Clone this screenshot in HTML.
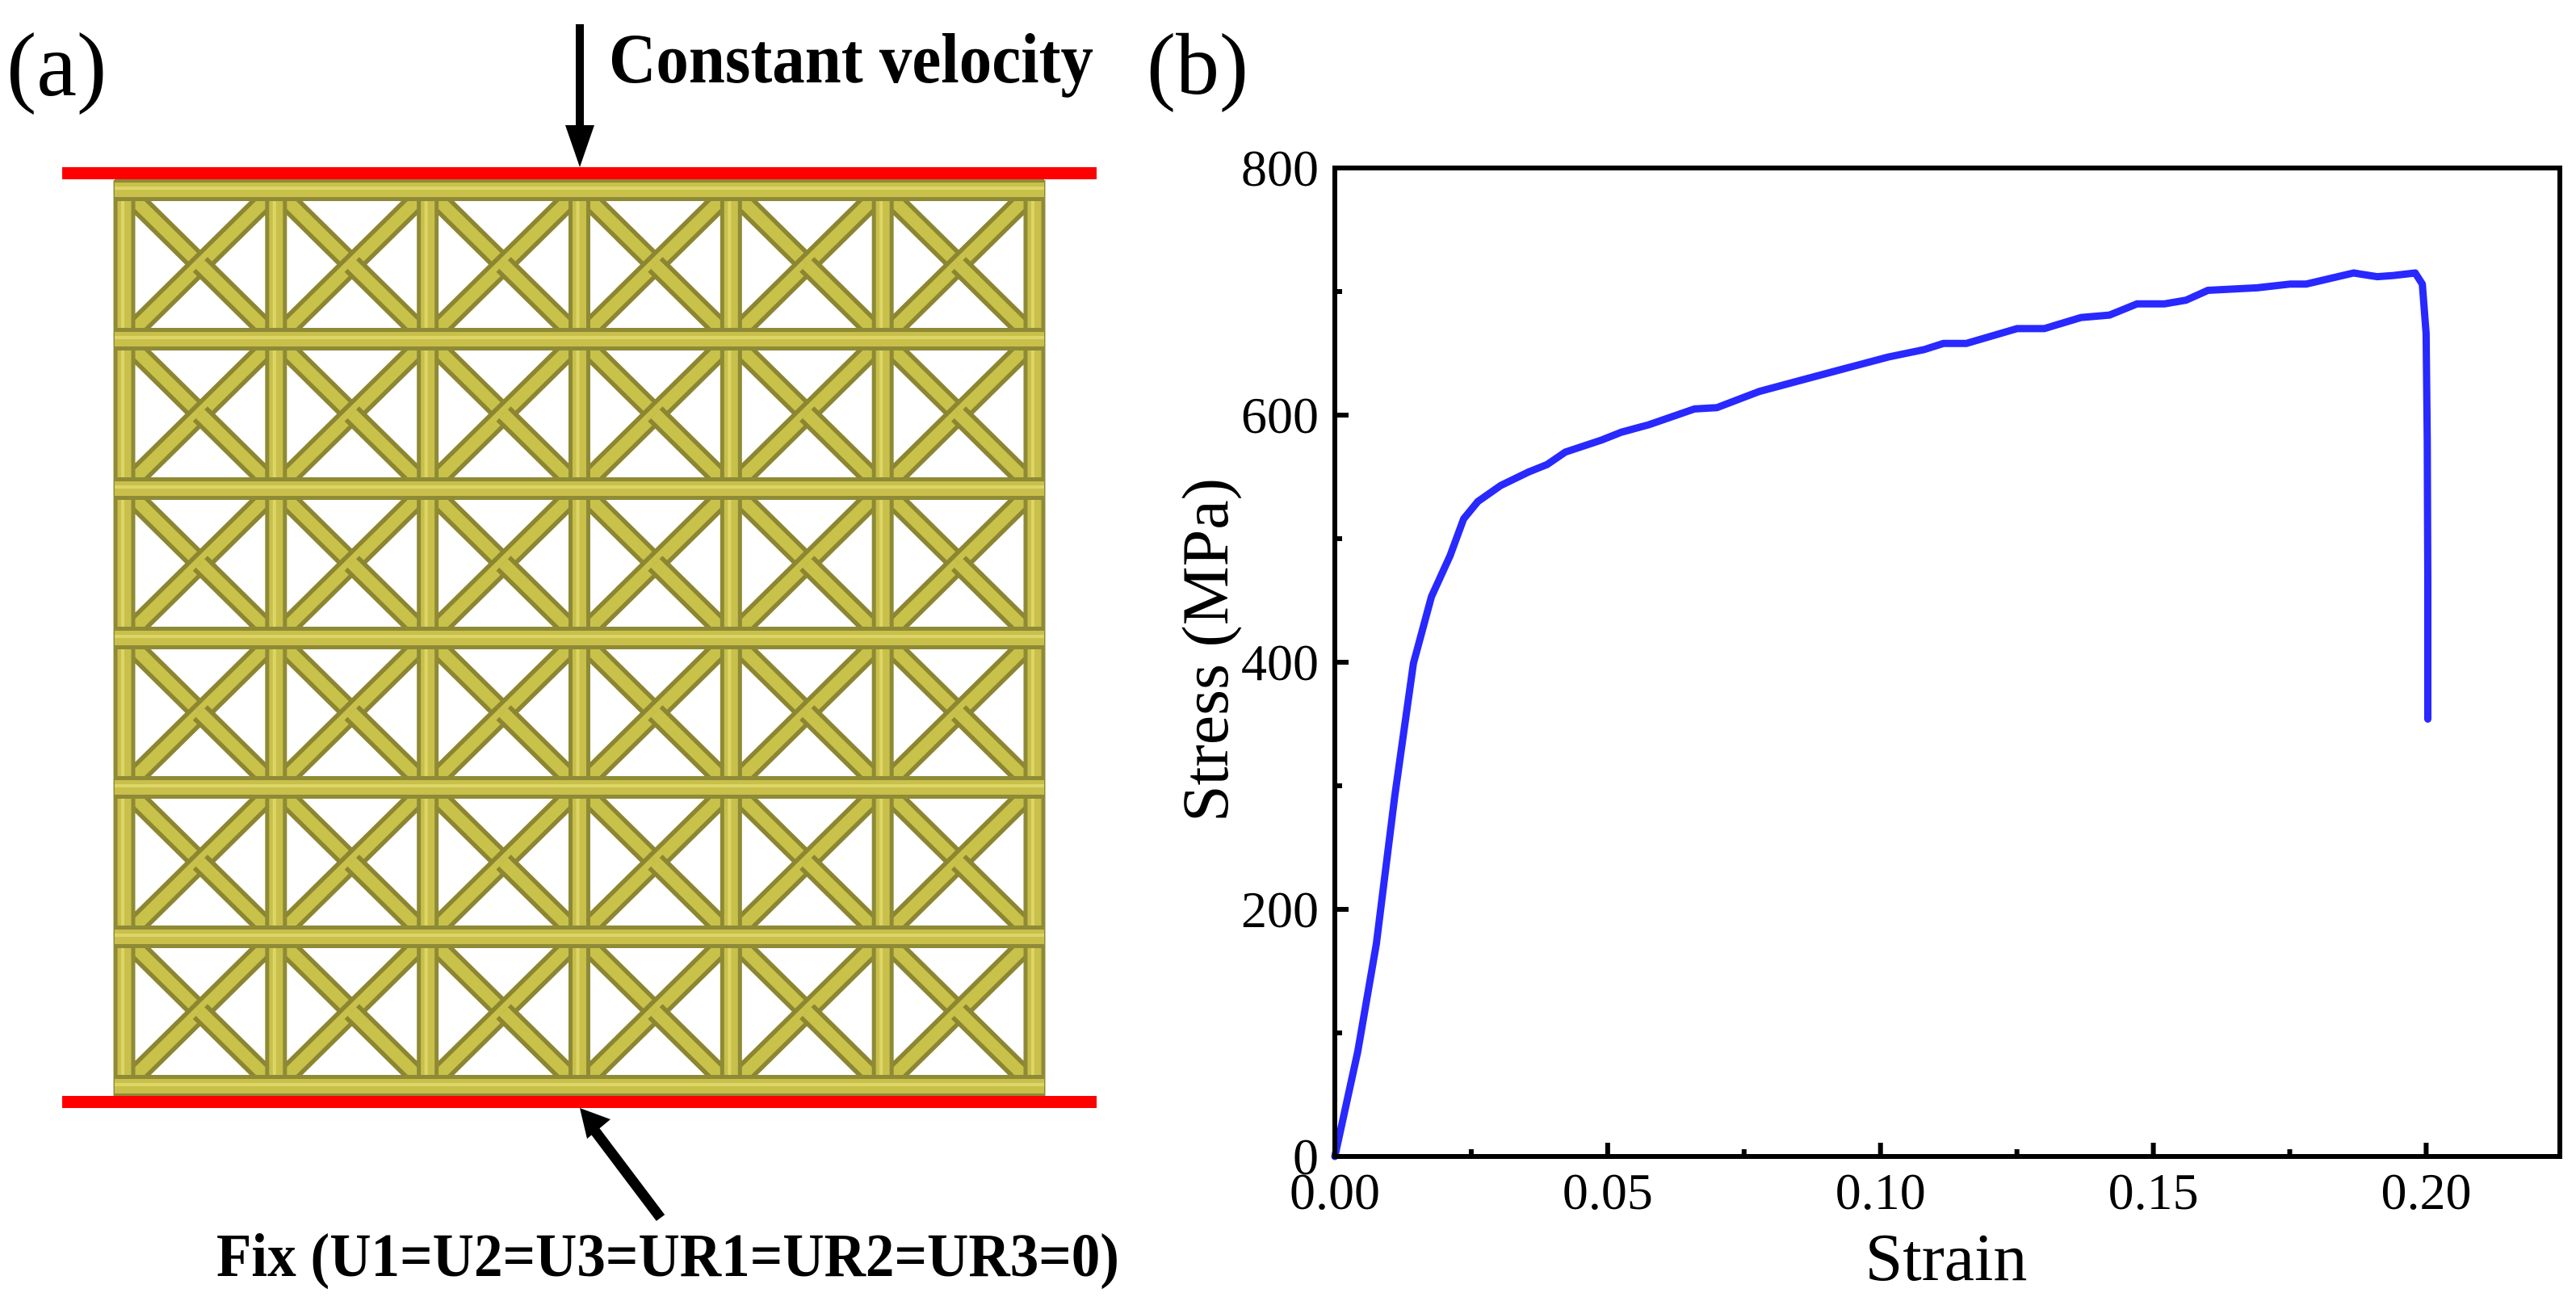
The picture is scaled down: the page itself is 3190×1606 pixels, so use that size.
<!DOCTYPE html>
<html><head><meta charset="utf-8"><style>
html,body{margin:0;padding:0;background:#fff;}
svg{display:block;}
text{font-family:"Liberation Serif",serif;}
</style></head><body>
<svg id="fig" width="3190" height="1606" viewBox="0 0 3190 1606" xmlns="http://www.w3.org/2000/svg">
<g>
<text x="8" y="118" font-size="112">(a)</text>
<line x1="718" y1="30" x2="718" y2="160" stroke="#000" stroke-width="10"/>
<polygon points="700,155 736,155 718,207" fill="#000"/>
<text x="754" y="102" font-size="88" font-weight="bold" textLength="600" lengthAdjust="spacingAndGlyphs">Constant velocity</text>
<g id="lattice"></g>
<rect x="77" y="207" width="1281" height="15" fill="#ff0000"/>
<rect x="77" y="1357" width="1281" height="15" fill="#ff0000"/>
<line x1="818" y1="1508" x2="735" y2="1398" stroke="#000" stroke-width="13"/>
<polygon points="718,1372 756,1386 727,1410" fill="#000"/>
<text x="268" y="1580" font-size="76" font-weight="bold" textLength="1118" lengthAdjust="spacingAndGlyphs">Fix (U1=U2=U3=UR1=UR2=UR3=0)</text>
</g>
<g>
<text x="1420" y="116" font-size="108">(b)</text>
<g id="chart"></g>
</g>
</svg>
<script>
const NS="http://www.w3.org/2000/svg";
function mk(tag,attrs,parent){const e=document.createElementNS(NS,tag);for(const k in attrs)e.setAttribute(k,attrs[k]);parent.appendChild(e);return e;}

// ---- lattice (illustration) ----
const lat=document.getElementById('lattice');
const LX0=154, LX1=1281, LY0=235, LY1=1345, N=6;
const px=(LX1-LX0)/N, py=(LY1-LY0)/N;
for(let i=0;i<N;i++)for(let j=0;j<N;j++){
  const x0=LX0+i*px,y0=LY0+j*py,cx=x0+px/2,cy=y0+py/2;
  const corners=[[x0,y0],[x0+px,y0],[x0,y0+py],[x0+px,y0+py]];
  corners.forEach(c=>{
    const d=mk('line',{x1:c[0],y1:c[1],x2:cx,y2:cy,stroke:'#8c8632','stroke-width':26},lat);
    
    
    mk('line',{x1:c[0],y1:c[1],x2:cx,y2:cy,stroke:'#c9c24a','stroke-width':15},lat);
  });
}
for(let i=0;i<=N;i++){
  const x=LX0+i*px;
  const v=mk('line',{x1:x,y1:223,x2:x,y2:1357,stroke:'#8e8a36','stroke-width':27},lat);
  
  
  mk('line',{x1:x,y1:223,x2:x,y2:1357,stroke:'#c8c04a','stroke-width':17},lat);
  mk('line',{x1:x-2,y1:223,x2:x-2,y2:1357,stroke:'#ddd566','stroke-width':4},lat);
}
for(let j=0;j<=N;j++){
  const y=LY0+j*py;
  const h=mk('line',{x1:142,y1:y,x2:1293,y2:y,stroke:'#8e8a36','stroke-width':28},lat);
  
  
  mk('line',{x1:142,y1:y,x2:1293,y2:y,stroke:'#c8c04a','stroke-width':18},lat);
  mk('line',{x1:142,y1:y-2,x2:1293,y2:y-2,stroke:'#ddd566','stroke-width':4},lat);
}

// ---- chart data ----
const strain=[0,0.0042,0.0076,0.011,0.0144,0.0177,0.0211,0.0236,0.0262,0.0304,0.0355,0.0389,0.0422,0.049,0.0524,0.0574,0.0659,0.07,0.0777,0.0861,0.0946,0.1014,0.108,0.1115,0.1157,0.125,0.13,0.1368,0.142,0.147,0.152,0.156,0.160,0.169,0.175,0.178,0.1867,0.191,0.194,0.198,0.1993,0.2,0.2002,0.2003,0.2003];
const stress=[0,85,172,292,399,453,486,516,530,543,554,560,570,580,586,592,605,606,619,629,639,647,653,658,658,670,670,679,681,690,690,693,701,703,706,706,715,712,713,715,706,666,580,466,354];
const xTicks=[0,0.05,0.10,0.15,0.20];
const xTickLabels=["0.00","0.05","0.10","0.15","0.20"];
const yTicks=[0,200,400,600,800];
const yTickLabels=["0","200","400","600","800"];
const xMin=0,xMax=0.2245,yMin=0,yMax=800;

const PL=1653,PR=3170,PT=208,PB=1432;
const sx=v=>PL+(v-xMin)/(xMax-xMin)*(PR-PL);
const sy=v=>PB-(v-yMin)/(yMax-yMin)*(PB-PT);
const ch=document.getElementById('chart');

for(let v=0.025;v<xMax;v+=0.05){const t=mk('line',{x1:sx(v),y1:PB,x2:sx(v),y2:PB-9,stroke:'#000','stroke-width':6},ch);

}
for(let v=100;v<yMax;v+=200){const t=mk('line',{x1:PL,y1:sy(v),x2:PL+9,y2:sy(v),stroke:'#000','stroke-width':6},ch);

}
xTicks.forEach((v,i)=>{
  const t=mk('line',{x1:sx(v),y1:PB,x2:sx(v),y2:PB-17,stroke:'#000','stroke-width':6},ch);
  
  
  const l=mk('text',{x:sx(v),y:1497,'font-size':64,'text-anchor':'middle'},ch);
  l.textContent=xTickLabels[i];
  
  
});
yTicks.forEach((v,i)=>{
  const t=mk('line',{x1:PL,y1:sy(v),x2:PL+17,y2:sy(v),stroke:'#000','stroke-width':6},ch);
  
  
  const l=mk('text',{x:1633,y:sy(v)+22,'font-size':64,'text-anchor':'end'},ch);
  l.textContent=yTickLabels[i];
  
  
});
let d='';strain.forEach((v,i)=>{d+=(i?'L':'M')+sx(v).toFixed(1)+','+sy(stress[i]).toFixed(1);});
const line=mk('path',{d:d,fill:'none',stroke:'#2828ff','stroke-width':9,'stroke-linejoin':'round','stroke-linecap':'round'},ch);


const fr=mk('rect',{x:PL,y:PT,width:PR-PL,height:PB-PT,fill:'none',stroke:'#000','stroke-width':6},ch);


const xt=mk('text',{x:2410,y:1585,'font-size':84,'text-anchor':'middle'},ch);
xt.textContent='Strain';


const yt=mk('text',{x:0,y:0,'font-size':82,'text-anchor':'middle',transform:'translate(1520,805) rotate(-90)'},ch);
yt.textContent='Stress (MPa)';


</script>
</body></html>
